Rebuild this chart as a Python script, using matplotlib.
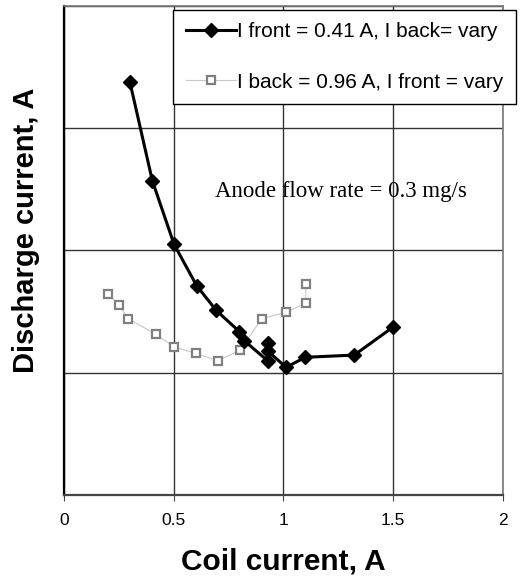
import matplotlib
matplotlib.use("Agg")
import matplotlib.pyplot as plt

plt.rcParams['font.family'] = ['Liberation Sans', 'DejaVu Sans']

# I front fixed, I back varied
front_x = [0.300, 0.402, 0.501, 0.604, 0.693, 0.799, 0.822, 0.928, 0.928, 0.928, 1.012, 1.100, 1.323, 1.499]
front_y = [1.687, 1.285, 1.025, 0.856, 0.755, 0.668, 0.630, 0.549, 0.620, 0.589, 0.522, 0.563, 0.572, 0.686]

# I back fixed, I front varied
back_x = [0.198, 0.251, 0.290, 0.419, 0.500, 0.600, 0.700, 0.802, 0.901, 1.010, 1.102, 1.102]
back_y = [0.822, 0.777, 0.721, 0.657, 0.606, 0.579, 0.549, 0.592, 0.721, 0.747, 0.784, 0.861]

x_ticks = [0, 0.5, 1, 1.5, 2]
x_tick_labels = ["0", "0.5", "1", "1.5", "2"]

fig = plt.figure(figsize=(5.21, 5.79), dpi=100)
ax = fig.add_axes([0.1232, 0.1451, 0.8417, 0.8449])

ax.plot(back_x, back_y, color="#c8c8c8", lw=0.8, marker="s", ms=5.5,
        mfc="white", mec="#808080", mew=1.6,
        label="I back = 0.96 A, I front = vary", zorder=3)
ax.plot(front_x, front_y, color="black", lw=2.2, marker="D", ms=7,
        mfc="black", mec="black",
        label="I front = 0.41 A, I back= vary", zorder=4)

ax.set_xlim(0, 2)
ax.set_ylim(0, 2)
ax.set_xticks(x_ticks)
ax.set_xticklabels(x_tick_labels, fontsize=12.5)
ax.set_yticks([0, 0.5, 1, 1.5, 2])
ax.set_yticklabels([])
ax.tick_params(axis="y", length=0)
ax.tick_params(axis="x", direction="out", length=4, color="#444444", pad=9)
ax.grid(True, color="#333333", lw=1.0)
ax.set_axisbelow(True)

for side in ["top", "right"]:
    ax.spines[side].set_color("#777777")
    ax.spines[side].set_linewidth(1.2)
ax.spines["left"].set_color("black")
ax.spines["left"].set_linewidth(1.6)
ax.spines["bottom"].set_color("#444444")
ax.spines["bottom"].set_linewidth(1.6)

ax.set_xlabel("Coil current, A", fontsize=21.5, fontweight="bold", labelpad=14)
ax.set_ylabel("Discharge current, A", fontsize=21, fontweight="bold")
ax.yaxis.set_label_coords(-0.055, 0.541)

ax.text(1.263, 1.239, "Anode flow rate = 0.3 mg/s", ha="center", va="center",
        fontsize=16.5, family=["Liberation Serif", "DejaVu Serif"])

handles, labels = ax.get_legend_handles_labels()
leg = fig.legend(handles[::-1], labels[::-1], loc="upper right",
                 bbox_to_anchor=(0.99, 0.983), fontsize=15, frameon=True,
                 fancybox=False, edgecolor="black", framealpha=1,
                 handlelength=2.4, handletextpad=0.05, labelspacing=1.5,
                 borderpad=0.6, borderaxespad=0)
leg.get_frame().set_linewidth(1.0)

fig.savefig("out.png", dpi=100)
